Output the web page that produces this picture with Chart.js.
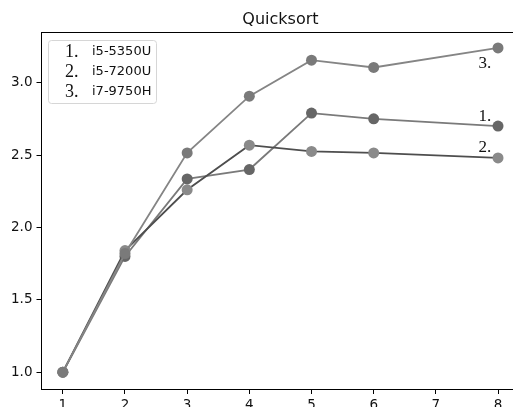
<!DOCTYPE html>
<html>
<head>
<meta charset="utf-8">
<script src="https://cdn.jsdelivr.net/npm/chart.js@4"></script>
<style>
    html, body { margin: 0; padding: 0; background: #fff; overflow: hidden; }
    canvas { display: block; }
</style>
</head>
<body>
<canvas id="quickChart" width="513" height="407"></canvas>
<script>
// values
const threads = [1, 2, 3, 4, 5, 6, 8];
const i5_5350U = [1.0, 1.80, 2.335, 2.40, 2.79, 2.75, 2.70];
const i5_7200U = [1.0, 1.84, 2.26, 2.568, 2.525, 2.515, 2.48];
const i7_9750H = [1.0, 1.82, 2.515, 2.907, 3.155, 3.105, 3.24];
const cpuNames = ['i5-5350U', 'i5-7200U', 'i7-9750H'];
const marks = ['1.', '2.', '3.'];
const xTicks = [1, 2, 3, 4, 5, 6, 7, 8];
const yTicks = [1.0, 1.5, 2.0, 2.5, 3.0];
// where the "1." "2." "3." notes sit next to the last points
const noteX = [7.79, 7.79, 7.79];
const noteY = [2.765, 2.555, 3.13];

const sans = 'DejaVu Sans';
const serif = 'Liberation Serif';

function pts(ys) {
    return threads.map(function (x, i) { return { x: x, y: ys[i] }; });
}

const extras = {
    id: 'extras',
    afterDraw: function (chart) {
        const ctx = chart.ctx;
        const xs = chart.scales.x;
        const ys = chart.scales.y;
        const area = chart.chartArea;
        ctx.save();

        // top spine
        ctx.strokeStyle = '#000';
        ctx.lineWidth = 1;
        ctx.beginPath();
        ctx.moveTo(area.left, area.top + 0.5);
        ctx.lineTo(chart.width, area.top + 0.5);
        ctx.stroke();

        // title, centred over the full (uncropped) axes
        ctx.fillStyle = '#111';
        ctx.font = '16px "' + sans + '"';
        ctx.textAlign = 'center';
        ctx.textBaseline = 'alphabetic';
        ctx.fillText('Quicksort', xs.getPixelForValue(4.5), 24);

        // notes by the line ends
        ctx.font = '17px "' + serif + '"';
        ctx.textBaseline = 'middle';
        for (let i = 0; i < marks.length; i++) {
            ctx.fillText(marks[i], xs.getPixelForValue(noteX[i]), ys.getPixelForValue(noteY[i]));
        }

        // legend box
        const bx = 48.5, by = 40.5, bw = 108, bh = 63, r = 3;
        ctx.beginPath();
        ctx.moveTo(bx + r, by);
        ctx.arcTo(bx + bw, by, bx + bw, by + bh, r);
        ctx.arcTo(bx + bw, by + bh, bx, by + bh, r);
        ctx.arcTo(bx, by + bh, bx, by, r);
        ctx.arcTo(bx, by, bx + bw, by, r);
        ctx.closePath();
        ctx.fillStyle = 'rgba(255,255,255,0.8)';
        ctx.fill();
        ctx.strokeStyle = '#d6d6d6';
        ctx.stroke();

        for (let i = 0; i < cpuNames.length; i++) {
            const rowY = 52 + i * 20;
            ctx.fillStyle = '#111';
            ctx.textAlign = 'left';
            ctx.font = '18px "' + serif + '"';
            ctx.fillText(marks[i], 65, rowY);
            ctx.font = '13px "' + sans + '"';
            ctx.fillText(cpuNames[i], 92, rowY);
        }
        ctx.restore();
    }
};

const ctx = document.getElementById('quickChart').getContext('2d');

new Chart(ctx, {
    type: 'line',
    data: {
        datasets: [{
            label: cpuNames[0],
            data: pts(i5_5350U),
            borderColor: '#7a7a7a',
            backgroundColor: '#666666',
            borderWidth: 1.8,
            pointRadius: 5.5,
            pointBorderWidth: 0,
            order: 3
        }, {
            label: cpuNames[1],
            data: pts(i5_7200U),
            borderColor: '#4e4e4e',
            backgroundColor: '#8a8a8a',
            borderWidth: 1.8,
            pointRadius: 5.5,
            pointBorderWidth: 0,
            order: 2
        }, {
            label: cpuNames[2],
            data: pts(i7_9750H),
            borderColor: '#858585',
            backgroundColor: '#7a7a7a',
            borderWidth: 1.8,
            pointRadius: 5.5,
            pointBorderWidth: 0,
            order: 1
        }]
    },
    options: {
        responsive: false,
        animation: false,
        layout: { autoPadding: false, padding: { top: 32, right: 0, left: 0, bottom: 0 } },
        plugins: {
            legend: { display: false },
            title: { display: false },
            tooltip: { enabled: false }
        },
        scales: {
            x: {
                type: 'linear',
                min: 0.657,
                max: 8.241,
                afterFit: function (s) {
                    s.height = 18;
                    s.paddingLeft = 0;
                    s.paddingRight = 0;
                },
                afterBuildTicks: function (s) {
                    s.ticks = xTicks.map(function (v) { return { value: v }; });
                },
                grid: { drawOnChartArea: false, drawTicks: true, tickLength: 5, color: '#000' },
                border: { color: '#000', width: 1 },
                ticks: {
                    color: '#111',
                    padding: 3,
                    font: { family: sans, size: 13.5 },
                    callback: function (v) { return v; }
                }
            },
            y: {
                min: 0.884,
                max: 3.35,
                afterFit: function (s) {
                    s.width = 41.5;
                    s.paddingTop = 0;
                    s.paddingBottom = 0;
                },
                afterBuildTicks: function (s) {
                    s.ticks = yTicks.map(function (v) { return { value: v }; });
                },
                grid: { drawOnChartArea: false, drawTicks: true, tickLength: 5, color: '#000' },
                border: { color: '#000', width: 1 },
                ticks: {
                    color: '#111',
                    padding: 4,
                    font: { family: sans, size: 13.5 },
                    callback: function (v) { return Number(v).toFixed(1); }
                }
            }
        }
    },
    plugins: [extras]
});
</script>
</body>
</html>
